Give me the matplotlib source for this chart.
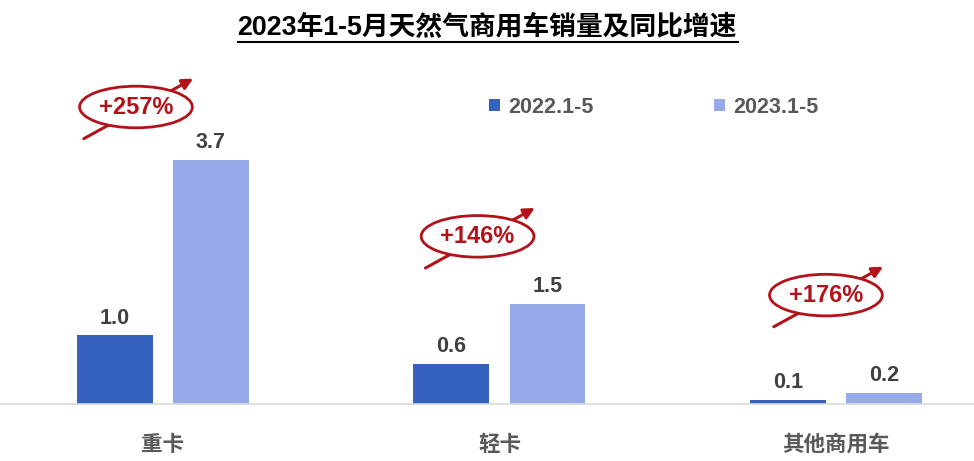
import numpy as np
import matplotlib.pyplot as plt
from matplotlib.patches import Ellipse
from matplotlib.lines import Line2D

plt.rcParams['font.family'] = ['Liberation Sans', 'Noto Sans CJK SC', 'DejaVu Sans']

categories = ['重卡', '轻卡', '其他商用车']
sales_2022 = [1.04, 0.61, 0.06]
sales_2023 = [3.7, 1.52, 0.17]
labels_2022 = ['1.0', '0.6', '0.1']
labels_2023 = ['3.7', '1.5', '0.2']
growth = ['+257%', '+146%', '+176%']
series_names = ['2022.1-5', '2023.1-5']

c_dark = '#3562BE'
c_light = '#96AAE9'
c_red = '#B3121B'
c_text = '#595959'

fig = plt.figure(figsize=(9.74, 4.61), dpi=100)
ax = fig.add_axes((0, 57/461, 1, 330/461))

x = np.arange(len(categories))
w = 0.225
off = 0.143
ax.bar(x - off, sales_2022, w, color=c_dark, label=series_names[0])
ax.bar(x + off, sales_2023, w, color=c_light, label=series_names[1])

for i in range(len(categories)):
    ax.text(x[i] - off, sales_2022[i] + 0.1, labels_2022[i], ha='center', va='bottom',
            fontsize=15.5, fontweight='bold', color='#404040')
    ax.text(x[i] + off, sales_2023[i] + 0.1, labels_2023[i], ha='center', va='bottom',
            fontsize=15.5, fontweight='bold', color='#404040')

ax.set_xlim(-0.484, 2.41)
ax.set_ylim(0, 5)
ax.set_xticks(x)
ax.set_xticklabels(categories, fontsize=15.5, fontweight='bold', color=c_text)
ax.tick_params(axis='x', length=0, pad=22)
ax.set_yticks([])
for s in ['top', 'right', 'left']:
    ax.spines[s].set_visible(False)
ax.spines['bottom'].set_color('#D9D9D9')
ax.spines['bottom'].set_linewidth(1.2)

# growth bubbles: ellipse + arrow, placed above each group
bubble_y = [4.5, 2.54, 1.65]
bubble_dx = [-0.08, -0.065, -0.03]
for i in range(len(categories)):
    cx = x[i] + bubble_dx[i]
    cy = bubble_y[i]
    ax.annotate('', xy=(cx + 0.17, cy + 0.43), xytext=(cx - 0.155, cy - 0.48),
                arrowprops=dict(arrowstyle='-|>', color=c_red, lw=2.2,
                                mutation_scale=16, shrinkA=0, shrinkB=0), zorder=3)
    ax.add_patch(Ellipse((cx, cy), 0.335, 0.63, facecolor='white',
                         edgecolor=c_red, lw=2.0, zorder=4))
    ax.text(cx, cy, growth[i], ha='center', va='center', fontsize=17,
            fontweight='bold', color=c_red, zorder=5)

leg = ax.legend(loc='upper left', bbox_to_anchor=(0.482, 0.99), ncol=2, frameon=False,
                fontsize=15.5, handlelength=0.5, handleheight=0.5, handletextpad=0.4,
                columnspacing=5.6)
for t in leg.get_texts():
    t.set_color(c_text)
    t.set_fontweight('bold')

fig.text(0.5, 1 - 28/461, '2023年1-5月天然气商用车销量及同比增速', ha='center', va='center',
         fontsize=19.3, fontweight='bold', color='black')
fig.add_artist(Line2D([238/974, 738/974], [1 - 42/461, 1 - 42/461], color='black', lw=1.5))

fig.savefig('out.png', dpi=100)
